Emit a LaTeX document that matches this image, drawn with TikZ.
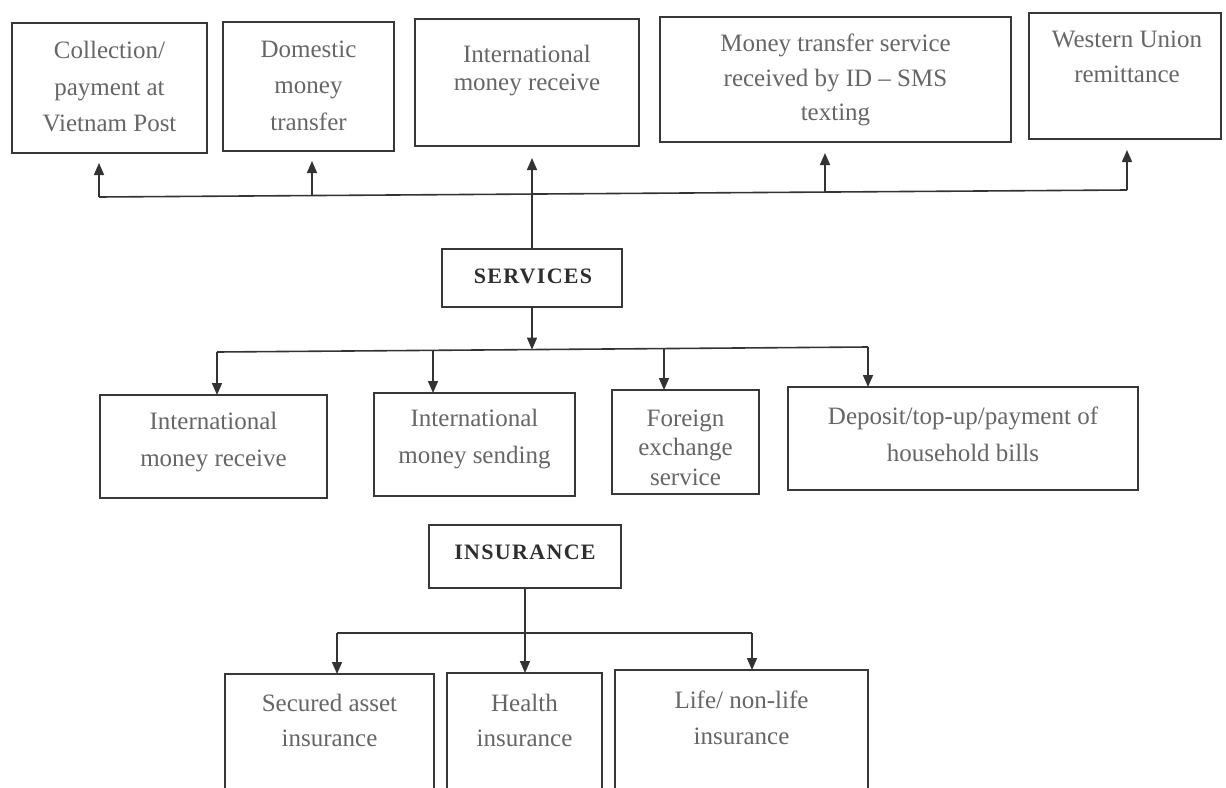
\documentclass[tikz,border=0pt]{standalone}
\usepackage{fontspec}
\setmainfont{Liberation Serif}
\usetikzlibrary{arrows.meta}
\begin{document}
\begin{tikzpicture}[x=1pt,y=-1pt,
  box/.style={draw=black!78, line width=2pt, rectangle, inner sep=0pt, outer sep=0pt},
  txt/.style={align=center, text=black!60, inner sep=0pt, font=\fontsize{25}{#1}\selectfont},
  txt/.default=36,
  head/.style={align=center, text=black!82, inner sep=0pt, font=\fontsize{22}{26}\selectfont\bfseries\addfontfeature{LetterSpace=6}},
  conn/.style={draw=black!80, line width=1.6pt},
  arr/.style={conn, -{Triangle[length=12pt,width=10pt]}}
]
\clip (0,0) rectangle (1226,787);
\fill[white] (0,0) rectangle (1226,787);

% top row
\node[box, minimum width=195pt, minimum height=130pt] (b1) at (109.5,88) {};
\node[box, minimum width=171pt, minimum height=129pt] (b2) at (308.5,86.5) {};
\node[box, minimum width=224pt, minimum height=127pt] (b3) at (527,82.5) {};
\node[box, minimum width=351pt, minimum height=125pt] (b4) at (835.5,79.5) {};
\node[box, minimum width=192pt, minimum height=126pt] (b5) at (1125,76) {};
\node[txt=36.5] (t1) at (109.5,87) {Collection/\\payment at\\Vietnam Post};
\node[txt=36.5] (t2) at (308.5,85.5) {Domestic\\money\\transfer};
\node[txt=28] (t3) at (527,71) {International\\money receive};
\node[txt=34.5] (t4) at (835.5,80) {Money transfer service\\received by ID -- SMS\\texting};
\node[txt=35] (t5) at (1127,56.5) {Western Union\\remittance};

% services
\node[box, minimum width=180pt, minimum height=58pt] (svc) at (532,278) {};
\node[head] (svct) at (533,276.5) {SERVICES};

% middle row
\node[box, minimum width=227pt, minimum height=103pt] (bA) at (213.5,446.5) {};
\node[box, minimum width=201pt, minimum height=103pt] (bB) at (474.5,444.5) {};
\node[box, minimum width=147pt, minimum height=104pt] (bC) at (685.5,442) {};
\node[box, minimum width=350pt, minimum height=103pt] (bD) at (963,438.5) {};
\node[txt=37] (tA) at (213.5,442) {International\\money receive};
\node[txt=37] (tB) at (474.5,439.5) {International\\money sending};
\node[txt=29.5] (tC) at (685.5,447.5) {Foreign\\exchange\\service};
\node[txt=37] (tD) at (963,434) {Deposit/top-up/payment of\\household bills};

% insurance
\node[box, minimum width=192pt, minimum height=63pt] (ins) at (525,556.5) {};
\node[head] (inst) at (525,552.5) {INSURANCE};

% bottom row
\node[box, minimum width=209pt, minimum height=126pt] (bS) at (329.5,737) {};
\node[box, minimum width=155pt, minimum height=127pt] (bH) at (524.5,736.5) {};
\node[box, minimum width=253pt, minimum height=130pt] (bL) at (741.5,735) {};
\node[txt=35] (tS) at (329.5,720) {Secured asset\\insurance};
\node[txt=35] (tH) at (524.5,720) {Health\\insurance};
\node[txt=36] (tL) at (741.5,717.5) {Life/ non-life\\insurance};

% top bus
\coordinate (j1) at (99,197);
\coordinate (j2) at (312,195.5);
\coordinate (j4) at (825,192);
\coordinate (j5) at (1127,190);
\draw[conn] (j1) -- (j5);
\draw[arr, shorten >=10pt] (j1) -- (j1 |- b1.south);
\draw[arr, shorten >=10pt] (j2) -- (j2 |- b2.south);
\draw[arr, shorten >=12pt] (svc.north) -- (svc.north |- b3.south);
\draw[arr, shorten >=11pt] (j4) -- (j4 |- b4.south);
\draw[arr, shorten >=11pt] (j5) -- (j5 |- b5.south);

% middle bus
\coordinate (m1) at (217,352);
\coordinate (m2) at (433,350.3);
\coordinate (m3) at (532,349.6);
\coordinate (m4) at (664,348.6);
\coordinate (m5) at (868,347);
\draw[conn] (m1) -- (m5);
\draw[arr] (svc.south) -- (m3);
\draw[arr] (m1) -- (m1 |- bA.north);
\draw[arr] (m2) -- (m2 |- bB.north);
\draw[arr] (m4) -- (m4 |- bC.north);
\draw[arr] (m5) -- (m5 |- bD.north);

% bottom bus
\coordinate (n1) at (337,633);
\coordinate (n3) at (752,633);
\draw[conn] (n1) -- (n3);
\draw[arr] (ins.south) -- (ins.south |- bH.north);
\draw[arr] (n1) -- (n1 |- bS.north);
\draw[arr] (n3) -- (n3 |- bL.north);
\end{tikzpicture}
\end{document}
